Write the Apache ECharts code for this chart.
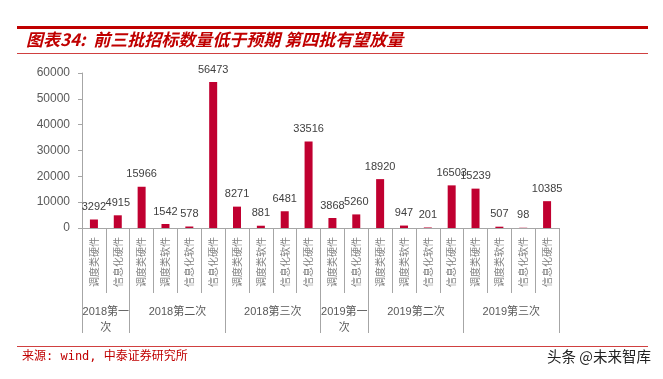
<!DOCTYPE html>
<html>
<head>
<meta charset="utf-8">
<script src="https://cdn.jsdelivr.net/npm/echarts@6/dist/echarts.min.js"></script>
<style>
html,body{margin:0;padding:0;background:#fff;}
#c{width:663px;height:379px;}
</style>
</head>
<body>
<div id="c"></div>
<script>
// Data
const categories = [
  '调度类硬件','信息化硬件',
  '调度类硬件','调度类软件','信息化软件','信息化硬件',
  '调度类硬件','调度类软件','信息化软件','信息化硬件',
  '调度类硬件','信息化硬件',
  '调度类硬件','调度类软件','信息化软件','信息化硬件',
  '调度类硬件','调度类软件','信息化软件','信息化硬件'
];
const values = [3292, 4915, 15966, 1542, 578, 56473, 8271, 881, 6481, 33516,
                3868, 5260, 18920, 947, 201, 16503, 15239, 507, 98, 10385];
const groupLabels = ['2018第一\n次', '2018第二次', '2018第三次', '2019第一\n次', '2019第二次', '2019第三次'];
const groupSizes = [2, 4, 4, 2, 4, 4];
const yTicks = [0, 10000, 20000, 30000, 40000, 50000, 60000];

// Build the group axis (boundary points 0..N)
const boundaryData = new Array(categories.length + 1).fill('');
const boundarySet = new Set([0]);
let pos = 0;
groupSizes.forEach((s, i) => {
  const mid = pos + s / 2;
  boundaryData[mid] = groupLabels[i];
  pos += s;
  boundarySet.add(pos);
});

const chart = echarts.init(document.getElementById('c'));
const red = '#c00030';
chart.setOption({
  animation: false,
  backgroundColor: '#fff',
  grid: {left: 82, right: 104, top: 73, bottom: 151, containLabel: false},
  xAxis: [
    {
      type: 'category',
      data: categories,
      position: 'bottom',
      axisLine: {show: true, lineStyle: {color: '#a6a6a6', width: 1}},
      axisTick: {show: true, interval: 0, length: 65, lineStyle: {color: '#a6a6a6'}},
      axisLabel: {
        interval: 0, rotate: 90, margin: 9,
        fontSize: 10, color: '#808080',
        fontFamily: 'Noto Sans CJK SC'
      }
    },
    {
      type: 'category',
      data: boundaryData,
      position: 'bottom',
      boundaryGap: false,
      axisLine: {show: false},
      axisTick: {
        show: true, length: 105,
        interval: function (idx) { return boundarySet.has(idx); },
        lineStyle: {color: '#a6a6a6'}
      },
      axisLabel: {
        interval: 0, margin: 76, fontSize: 11, color: '#595959',
        lineHeight: 16, align: 'center',
        fontFamily: 'Liberation Sans, Noto Sans CJK SC'
      }
    }
  ],
  yAxis: {
    type: 'value',
    min: yTicks[0], max: yTicks[yTicks.length - 1], interval: 10000,
    axisLine: {show: true, lineStyle: {color: '#a6a6a6'}},
    axisTick: {show: true, length: 4, lineStyle: {color: '#a6a6a6'}},
    splitLine: {show: false},
    axisLabel: {margin: 12, fontSize: 12, color: '#595959', fontFamily: 'Liberation Sans',
      formatter: function (v) { return String(v); }}
  },
  series: [{
    type: 'bar',
    data: values,
    barWidth: 8,
    itemStyle: {color: red},
    label: {
      show: true, position: 'top', distance: 7,
      fontSize: 11, color: '#404040', fontFamily: 'Liberation Sans'
    }
  }],
  graphic: [
    {type: 'rect', shape: {x: 17, y: 26, width: 631, height: 3}, style: {fill: '#c00000'}},
    {type: 'text', left: 26, top: 31, style: {
      text: '图表34:  前三批招标数量低于预期 第四批有望放量',
      font: 'italic bold 17px "Noto Sans CJK SC"', fill: '#c00000'}},
    {type: 'rect', shape: {x: 17, y: 53, width: 631, height: 1}, style: {fill: '#d04040'}},
    {type: 'rect', shape: {x: 17, y: 346, width: 631, height: 1}, style: {fill: '#d04040'}},
    {type: 'text', left: 22, top: 351, style: {
      text: '来源: wind, 中泰证券研究所',
      font: '12px "DejaVu Sans Mono", "Noto Sans CJK SC"', fill: '#c00000'}},
    {type: 'text', left: 547, top: 349, style: {
      text: '头条 @未来智库',
      font: '14.5px "Noto Sans CJK SC"', fill: '#222'}}
  ]
});
</script>
</body>
</html>
